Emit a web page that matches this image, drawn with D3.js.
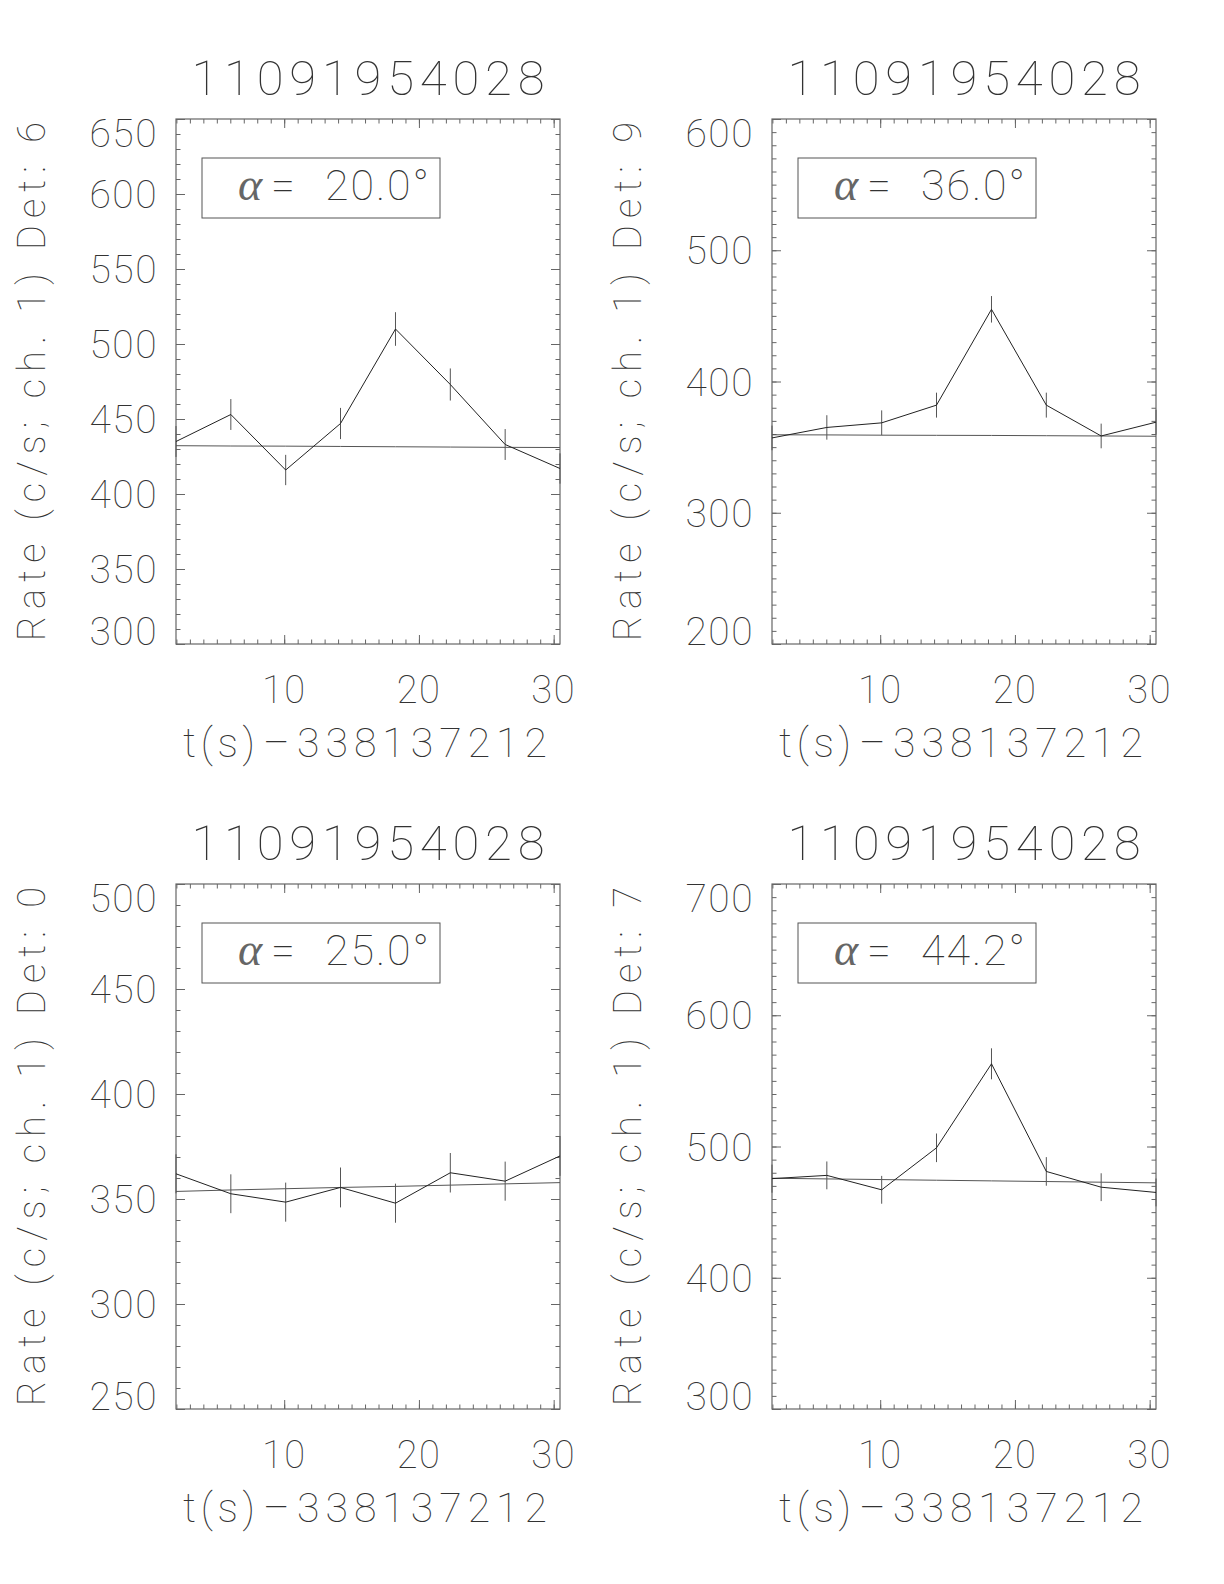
<!DOCTYPE html>
<html>
<head>
<meta charset="UTF-8">
<title>Rate vs time, 4 detectors</title>
<script src="https://d3js.org/d3.v7.min.js"></script>
<style>
  body { margin: 0; background: #fff; }
  text { font-family: Roboto, "DejaVu Sans", sans-serif; font-weight: 100; fill: #333; }
  .greek { font-family: "Liberation Serif", "DejaVu Serif", serif; font-style: italic; font-weight: normal; fill: #666; }
  .tick line { stroke: #666; }
</style>
</head>
<body>
<div id="chart"></div>
<script>
// bin times (s) after 338137212, shared by all panels
var times = [1.97, 6.04, 10.11, 14.18, 18.26, 22.33, 26.40, 30.47];

var titles = ["11091954028", "11091954028", "11091954028", "11091954028"];
var detectors = ["6", "9", "0", "7"];
var alphas = ["20.0", "36.0", "25.0", "44.2"];
var yDomains = [[300, 650], [200, 600], [250, 500], [300, 700]];
var yMajor = [50, 100, 50, 100];

// rates (c/s), errors and background level
var rateDet6 = [435, 453, 416, 447, 510, 473, 433, 417];
var errDet6  = [10.3, 10.3, 10.1, 10.4, 11.2, 10.7, 10.3, 10.1];
var bkgDet6  = [432.2, 432.0, 431.9, 431.7, 431.5, 431.3, 431.1, 431.0];

var rateDet9 = [357, 365, 368.5, 382, 455, 382, 358.5, 369];
var errDet9  = [9.4, 9.3, 9.5, 9.5, 10.1, 9.5, 9.4, 9.5];
var bkgDet9  = [359.4, 359.3, 359.1, 359.0, 358.9, 358.7, 358.5, 358.3];

var rateDet0 = [362, 352.5, 348.5, 355.5, 348, 362.5, 358.5, 370.5];
var errDet0  = [9.3, 9.25, 9.3, 9.5, 9.3, 9.4, 9.3, 9.5];
var bkgDet0  = [353.6, 354.3, 354.9, 355.5, 356.0, 356.6, 357.2, 357.8];

var rateDet7 = [475.5, 478, 467, 499, 563, 481, 469, 465];
var errDet7  = [10.7, 10.6, 10.6, 10.9, 11.8, 10.9, 10.6, 10.6];
var bkgDet7  = [475.8, 475.3, 474.8, 474.3, 473.8, 473.3, 472.8, 472.3];

var rates = [rateDet6, rateDet9, rateDet0, rateDet7];
var errs  = [errDet6, errDet9, errDet0, errDet7];
var bkgs  = [bkgDet6, bkgDet9, bkgDet0, bkgDet7];

var xLabelPre = "t(s)";
var xLabelNum = "338137212";

// panel placement
var pos = [{left: 176, top: 119}, {left: 772, top: 119}, {left: 176, top: 884}, {left: 772, top: 884}];
var pw = 384, ph = 525;

var svg = d3.select("#chart").append("svg")
    .attr("width", 1224)
    .attr("height", 1584);

pos.forEach(function(p, k) {
    var g = svg.append("g").attr("transform", "translate(" + p.left + "," + p.top + ")");

    var x = d3.scaleLinear().domain([times[0], times[times.length - 1]]).range([0, pw]);
    var y = d3.scaleLinear().domain(yDomains[k]).range([ph, 0]);

    var xMaj = [10, 20, 30];
    var xMin = d3.range(2, 31, 1);
    var yMaj = d3.range(yDomains[k][0], yDomains[k][1] + 1, yMajor[k]);
    var yMin = d3.range(yDomains[k][0], yDomains[k][1] + 1, 10);

    // ticks on all four sides, pointing inwards
    function ticks(axis, vals, size, tr) {
        var a = g.append("g").attr("transform", tr)
            .call(axis.tickValues(vals).tickSize(-size).tickFormat(""));
        a.select(".domain").remove();
    }
    ticks(d3.axisBottom(x), xMin, 4.5, "translate(0," + ph + ")");
    ticks(d3.axisBottom(x), xMaj, 9, "translate(0," + ph + ")");
    ticks(d3.axisTop(x), xMin, 4.5, "translate(0,0)");
    ticks(d3.axisTop(x), xMaj, 9, "translate(0,0)");
    ticks(d3.axisLeft(y), yMin, 4.5, "translate(0,0)");
    ticks(d3.axisLeft(y), yMaj, 9, "translate(0,0)");
    ticks(d3.axisRight(y), yMin, 4.5, "translate(" + pw + ",0)");
    ticks(d3.axisRight(y), yMaj, 9, "translate(" + pw + ",0)");

    g.append("rect")
        .attr("width", pw).attr("height", ph)
        .attr("fill", "none").attr("stroke", "#666").attr("stroke-width", 1.2);

    // y tick labels, kept inside the box height
    var cap = 28;
    g.selectAll("text.ylab").data(yMaj).enter().append("text")
        .attr("class", "ylab")
        .attr("x", -18)
        .attr("y", function(d) { return Math.max(cap, Math.min(ph + 1, y(d) + cap / 2)); })
        .attr("text-anchor", "end")
        .style("font-size", "39px")
        .style("letter-spacing", "1.5px")
        .text(function(d) { return d; });

    // x tick labels
    g.selectAll("text.xlab").data(xMaj).enter().append("text")
        .attr("class", "xlab")
        .attr("x", function(d) { return x(d); })
        .attr("y", ph + 59)
        .attr("text-anchor", "middle")
        .style("font-size", "38px")
        .style("letter-spacing", "1.5px")
        .text(function(d) { return d; });

    // x title
    var xt = g.append("text").attr("y", ph + 113).style("font-size", "41px");
    xt.append("tspan").attr("x", 7).attr("textLength", 72).text(xLabelPre);
    xt.append("tspan").attr("x", 87).attr("textLength", 24).text("\u2013");
    xt.append("tspan").attr("x", 121).attr("textLength", 250).text(xLabelNum);

    // y title
    g.append("text")
        .attr("transform", "translate(-131," + (ph / 2) + ") rotate(-90)")
        .attr("text-anchor", "middle")
        .attr("textLength", 519)
        .style("font-size", "38px")
        .text("Rate (c/s; ch. 1) Det: " + detectors[k]);

    // panel title
    g.append("text")
        .attr("x", pw / 2)
        .attr("y", -24)
        .attr("text-anchor", "middle")
        .attr("textLength", 353)
        .style("font-size", "49px")
        .text(titles[k]);

    // alpha box
    g.append("rect")
        .attr("x", 26).attr("y", 39).attr("width", 238).attr("height", 60)
        .attr("fill", "none").attr("stroke", "#555").attr("stroke-width", 1);
    var at = g.append("text").attr("y", 81).style("font-size", "43px");
    at.append("tspan").attr("class", "greek").attr("x", 62).style("font-size", "46px").text("\u03b1");
    at.append("tspan").attr("x", 95).attr("textLength", 24).text("=");
    at.append("tspan").attr("x", 149).attr("textLength", 104).text(alphas[k] + "\u00b0");

    // background level
    g.append("path")
        .datum(bkgs[k])
        .attr("fill", "none").attr("stroke", "#555").attr("stroke-width", 1)
        .attr("d", d3.line().x(function(d, i) { return x(times[i]); }).y(function(d) { return y(d); }));

    // error bars
    g.selectAll("line.err").data(rates[k]).enter().append("line")
        .attr("class", "err")
        .attr("x1", function(d, i) { return x(times[i]); })
        .attr("x2", function(d, i) { return x(times[i]); })
        .attr("y1", function(d, i) { return y(d - errs[k][i]); })
        .attr("y2", function(d, i) { return y(d + errs[k][i]); })
        .attr("stroke", "#555").attr("stroke-width", 1);

    // light curve
    g.append("path")
        .datum(rates[k])
        .attr("fill", "none").attr("stroke", "#222").attr("stroke-width", 1)
        .attr("d", d3.line().x(function(d, i) { return x(times[i]); }).y(function(d) { return y(d); }));
});
</script>
</body>
</html>
